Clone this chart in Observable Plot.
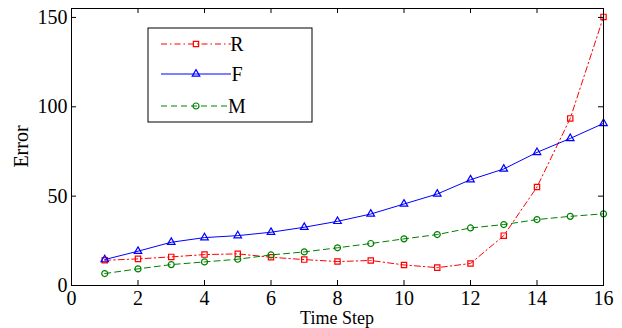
<!DOCTYPE html>
<html><head><meta charset="utf-8">
<script src="https://cdn.jsdelivr.net/npm/d3@7"></script>
<script src="https://cdn.jsdelivr.net/npm/@observablehq/plot@0.6"></script>
<style>body{margin:0;background:#fff} svg{display:block}</style>
</head><body><div id="chart"></div>
<script>
const steps = [1,2,3,4,5,6,7,8,9,10,11,12,13,14,15,16];
const rValues = [14.1,14.9,16.0,17.3,17.7,15.8,14.5,13.4,14.0,11.5,10.0,12.3,27.9,55.1,93.5,150.3];
const fValues = [14.5,19.2,24.2,26.8,27.9,29.8,32.6,35.9,40.0,45.6,51.2,59.2,65.2,74.5,82.3,90.7];
const mValues = [6.7,9.3,11.7,13.2,14.7,17.1,18.8,21.1,23.5,26.1,28.5,32.2,34.1,36.9,38.7,40.1];
const seriesNames = ["R","F","M"];
const xTicks = [0,2,4,6,8,10,12,14,16];
const yTicks = [0,50,100,150];
const xLabel = "Time Step";
const yLabel = "Error";

const styles = {
  R: {color:"#ff0000", dash:"6,3,1.5,3", symbol:"square", r:3},
  F: {color:"#0000ff", dash:null, symbol:"triangle", r:2.8},
  M: {color:"#008000", dash:"6,4", symbol:"circle", r:3}
};
const valuesBy = {R:rValues, F:fValues, M:mValues};
const rows = seriesNames.flatMap(s => steps.map((t,i) => ({series:s, step:t, value:valuesBy[s][i]})));

const W = 622, H = 328, mL = 71, mR = 19, mT = 8, mB = 43;
const innerH = H - mT - mB;
const font = "Liberation Serif, Times New Roman, serif";

const marks = [];
for (const s of seriesNames) {
  const st = styles[s];
  const d = rows.filter(r => r.series === s);
  marks.push(Plot.line(d, {x:"step", y:"value", stroke:st.color, strokeWidth:1, strokeDasharray:st.dash}));
  marks.push(Plot.dot(d, {x:"step", y:"value", symbol:()=>st.symbol, r:st.r, stroke:st.color, fill:"none", strokeWidth:1.2}));
}
marks.push(
  Plot.frame({stroke:"#000", strokeWidth:1}),
  Plot.tickX(xTicks, {x:d=>d, insetTop:innerH-5, stroke:"#000"}),
  Plot.tickX(xTicks, {x:d=>d, insetBottom:innerH-5, stroke:"#000"}),
  Plot.tickY(yTicks, {y:d=>d, insetRight:(W-mL-mR)-5, stroke:"#000"}),
  Plot.tickY(yTicks, {y:d=>d, insetLeft:(W-mL-mR)-5, stroke:"#000"}),
  Plot.axisX(xTicks, {anchor:"bottom", tickSize:0, tickPadding:5, label:null, fontSize:20}),
  Plot.axisY(yTicks, {anchor:"left", tickSize:0, tickPadding:4, label:null, fontSize:20})
);

const chart = Plot.plot({
  width: W, height: H,
  marginLeft: mL, marginRight: mR, marginTop: mT, marginBottom: mB,
  style: {fontFamily: font, fontSize: "20px", color:"#000", background:"#fff"},
  x: {domain:[0,16]},
  y: {domain:[0,155]},
  symbol: {type:"identity"},
  marks
});
document.getElementById("chart").appendChild(chart);

const svg = d3.select(chart);
// axis titles
svg.append("text").attr("x", (mL + W - mR)/2).attr("y", 324)
  .attr("text-anchor","middle").attr("font-family",font).attr("font-size",18).attr("fill","#000").text(xLabel);
svg.append("text").attr("transform", `translate(28,${(mT + H - mB)/2}) rotate(-90)`)
  .attr("text-anchor","middle").attr("font-family",font).attr("font-size",20).attr("fill","#000").text(yLabel);

// legend
const lg = svg.append("g");
lg.append("rect").attr("x",148).attr("y",28).attr("width",164).attr("height",94)
  .attr("fill","#fff").attr("stroke","#000").attr("stroke-width",1);
const legendY = [44, 74, 106];
const symMap = {square:d3.symbolSquare, triangle:d3.symbolTriangle, circle:d3.symbolCircle};
seriesNames.forEach((s,i) => {
  const st = styles[s], y = legendY[i];
  lg.append("line").attr("x1",161).attr("x2",231).attr("y1",y).attr("y2",y)
    .attr("stroke",st.color).attr("stroke-width",1).attr("stroke-dasharray",st.dash);
  lg.append("path").attr("transform",`translate(196,${y})`)
    .attr("d", d3.symbol(symMap[st.symbol], Math.PI*st.r*st.r)())
    .attr("fill","none").attr("stroke",st.color).attr("stroke-width",1.2);
  lg.append("text").attr("x",237).attr("y",y).attr("dy","0.35em")
    .attr("font-family",font).attr("font-size",20).attr("fill","#000").text(s);
});
</script>
</body></html>
